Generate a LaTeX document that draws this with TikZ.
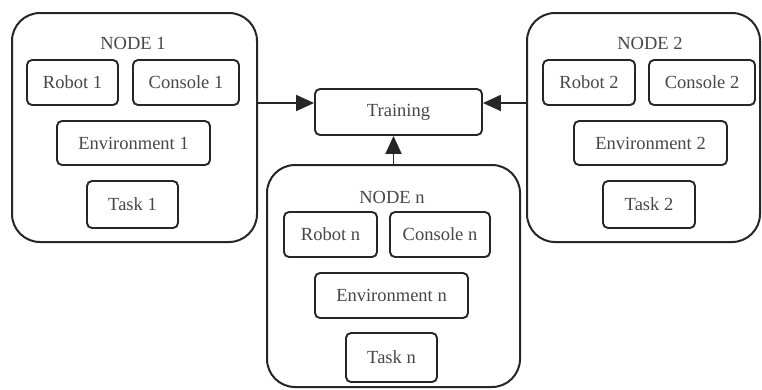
\documentclass[tikz,border=0pt]{standalone}
\usepackage{fontspec}
\setmainfont{Liberation Serif}
\usetikzlibrary{arrows.meta}
\begin{document}
\begin{tikzpicture}[x=1pt,y=-1pt,
  outerbox/.style={draw=black!85, line width=2pt, rounded corners=28pt, inner sep=0pt},
  innerbox/.style={draw=black!85, line width=1.9pt, rounded corners=5pt, inner sep=0pt,
     font=\fontsize{18.5}{20}\selectfont, text=black!72},
  titletext/.style={font=\fontsize{18.5}{20}\selectfont, text=black!72, inner sep=0pt},
  arr/.style={line width=1.9pt, draw=black!85, -{Triangle[length=18pt,width=16pt]}}]
\useasboundingbox[fill=white] (0,0) rectangle (762,389);
% outer boxes
\node[outerbox, minimum width=245pt, minimum height=229pt] (n1) at (134.5,127.5) {};
\node[outerbox, minimum width=233pt, minimum height=229pt] (n2) at (643.5,127.5) {};
\node[outerbox, minimum width=253pt, minimum height=222pt] (nn) at (393.5,276) {};
\node[innerbox, minimum width=167pt, minimum height=46pt] (train) at (398.5,112) {Training};
% titles
\node[titletext] (t1) at (133,43) {NODE 1};
\node[titletext] (t2) at (650,43) {NODE 2};
\node[titletext] (tn) at (392,197) {NODE n};
% node 1 contents
\node[innerbox, minimum width=91pt, minimum height=45pt] (r1) at (72.5,82.5) {Robot 1};
\node[innerbox, minimum width=106pt, minimum height=45pt] (c1) at (186,82.5) {Console 1};
\node[innerbox, minimum width=153pt, minimum height=44pt] (e1) at (133.5,143) {Environment 1};
\node[innerbox, minimum width=91pt, minimum height=47pt] (k1) at (132.5,204.5) {Task 1};
% node 2 contents
\node[innerbox, minimum width=92pt, minimum height=45pt] (r2) at (589,82.5) {Robot 2};
\node[innerbox, minimum width=106pt, minimum height=45pt] (c2) at (702,82.5) {Console 2};
\node[innerbox, minimum width=153pt, minimum height=44pt] (e2) at (650.5,143) {Environment 2};
\node[innerbox, minimum width=92pt, minimum height=47pt] (k2) at (649,204.5) {Task 2};
% node n contents
\node[innerbox, minimum width=93pt, minimum height=45pt] (rn) at (330.5,234.5) {Robot n};
\node[innerbox, minimum width=100pt, minimum height=45pt] (cn) at (440,234.5) {Console n};
\node[innerbox, minimum width=153pt, minimum height=45pt] (en) at (391.5,295.5) {Environment n};
\node[innerbox, minimum width=91pt, minimum height=49pt] (kn) at (391.5,357.5) {Task n};
% arrows
\coordinate (ay) at (0,103);
\draw[arr] (n1.east |- ay) -- (train.west |- ay);
\draw[arr] (n2.west |- ay) -- (train.east |- ay);
\draw[arr] (nn.north) -- (nn.north |- train.south);
\end{tikzpicture}
\end{document}
